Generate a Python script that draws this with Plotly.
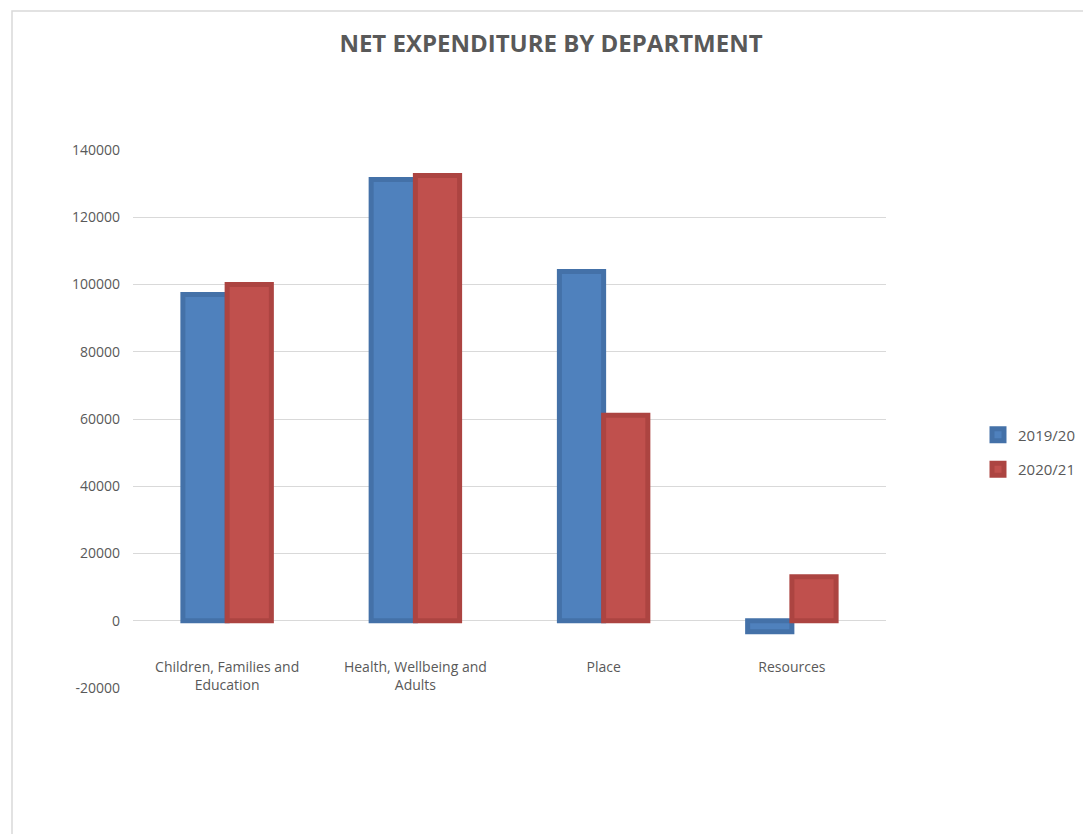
import plotly.graph_objects as go

categories = ["Children, Families and<br>Education", "Health, Wellbeing and<br>Adults", "Place", "Resources"]
series_names = ["2019/20", "2020/21"]
values_2019 = [97000, 131200, 103900, -3300]
values_2020 = [100000, 132400, 61100, 13100]
y_ticks = [-20000, 0, 20000, 40000, 60000, 80000, 100000, 120000, 140000]
y_tick_labels = [str(v) if v >= 0 else "-" + str(-v) for v in y_ticks]

fills = ["#4F81BD", "#C0504D"]
edges = ["#4471A8", "#AC4441"]

fig = go.Figure()
for i, (name, vals) in enumerate(zip(series_names, [values_2019, values_2020])):
    fig.add_trace(go.Bar(
        x=categories, y=vals, name=name,
        marker=dict(color=fills[i], line=dict(color=edges[i], width=5)),
        legendgroup=name,
    ))

L, R, T, B = 133, 197, 150, 146
fig.update_layout(
    width=1083, height=834,
    margin=dict(l=L, r=R, t=T, b=B, autoexpand=False),
    paper_bgcolor="white", plot_bgcolor="white",
    barmode="group", bargap=0.53, bargroupgap=0,
    font=dict(family="Open Sans, Liberation Sans, sans-serif", size=14, color="#595959"),
    title=dict(text="<b>NET EXPENDITURE BY DEPARTMENT</b>", x=551 / 1083, xanchor="center",
               y=1 - 44 / 834, yanchor="middle", yref="container", xref="container",
               font=dict(size=24, color="#595959")),
    yaxis=dict(range=[-20000, 140000], tickvals=y_ticks, ticktext=y_tick_labels, showgrid=True,
               gridcolor="#D9D9D9", gridwidth=1, zeroline=True, zerolinecolor="#D9D9D9",
               zerolinewidth=1, showline=False, ticks="", ticklabelstandoff=12,
               tickfont=dict(size=14, color="#595959")),
    xaxis=dict(anchor="free", position=0.125, showline=False, ticks="",
               showgrid=False, ticklabelstandoff=36,
               tickfont=dict(size=14, color="#595959")),
    legend=dict(xref="container", x=978 / 1083, xanchor="left",
                yref="container", y=1 - 452 / 834, yanchor="middle",
                tracegroupgap=12, font=dict(size=15, color="#595959"),
                itemwidth=30),
    showlegend=True,
)
pw = 1083 - L - R
ph = 834 - T - B
fig.add_shape(type="rect", xref="paper", yref="paper",
              x0=(12 - L) / pw, x1=(1100 - L) / pw,
              y0=(688 - 850) / ph, y1=(688 - 11) / ph,
              line=dict(color="#D9D9D9", width=1.5), fillcolor="rgba(0,0,0,0)", layer="below")

fig.write_html("out.html", config={"displayModeBar": False})
with open("out.html", "r", encoding="utf-8") as f:
    html = f.read()
html = html.replace("<head>", "<head><style>html,body{margin:0;padding:0;overflow:hidden;}</style>", 1)
with open("out.html", "w", encoding="utf-8") as f:
    f.write(html)
